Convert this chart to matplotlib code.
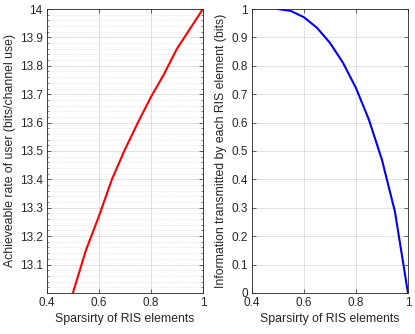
import matplotlib
matplotlib.use('Agg')
import matplotlib.pyplot as plt
from matplotlib.ticker import MultipleLocator
import numpy as np

plt.rcParams['font.family'] = ['Liberation Sans', 'DejaVu Sans']
plt.rcParams['font.size'] = 8.5

# datos
sparsity = [0.5, 0.55, 0.6, 0.65, 0.7, 0.75, 0.8, 0.85, 0.9, 0.95, 1.0]
rate = [13.0, 13.15, 13.27, 13.40, 13.505, 13.60, 13.69, 13.77, 13.86, 13.93, 14.0]
info = [1.0, 0.993, 0.971, 0.934, 0.881, 0.811, 0.722, 0.610, 0.469, 0.286, 0.0]

xticks = [0.4, 0.6, 0.8, 1]
xticklabels = ['0.4', '0.6', '0.8', '1']
rate_ticks = [13.1, 13.2, 13.3, 13.4, 13.5, 13.6, 13.7, 13.8, 13.9, 14.0]
rate_labels = ['13.1', '13.2', '13.3', '13.4', '13.5', '13.6', '13.7', '13.8', '13.9', '14']
info_ticks = [0, 0.1, 0.2, 0.3, 0.4, 0.5, 0.6, 0.7, 0.8, 0.9, 1]
info_labels = ['0', '0.1', '0.2', '0.3', '0.4', '0.5', '0.6', '0.7', '0.8', '0.9', '1']

tc = (0.15, 0.15, 0.15)

fig = plt.figure(figsize=(4.15, 3.34), dpi=100)
ax1 = fig.add_axes([0.113, 0.123, 0.376, 0.850])
ax2 = fig.add_axes([0.607, 0.123, 0.376, 0.850])

def style(ax):
    ax.grid(True, which='major', color=tc, alpha=0.15, linewidth=0.6)
    ax.tick_params(direction='in', top=True, right=True, colors=tc,
                   labelcolor=tc, length=3, width=0.5, labelsize=8.5, pad=3)
    for s in ax.spines.values():
        s.set_color(tc)
        s.set_linewidth(0.6)
    ax.set_axisbelow(True)

# panel izquierdo
ax1.plot(sparsity, rate, color='red', linewidth=1.5)
ax1.set_xlim(0.4, 1)
ax1.set_ylim(13.0, 14.0)
ax1.set_xticks(xticks)
ax1.set_xticklabels(xticklabels)
ax1.set_yticks(rate_ticks)
ax1.set_yticklabels(rate_labels)
ax1.yaxis.set_minor_locator(MultipleLocator(0.02))
style(ax1)
ax1.grid(True, which='minor', axis='y', color=tc, alpha=0.2,
         linestyle=(0, (1, 2)), linewidth=0.5)
ax1.tick_params(which='minor', direction='in', right=True, length=1.5,
                width=0.4, colors=tc)
ax1.set_xlabel('Sparsirty of RIS elements', color=tc, fontsize=8.8, labelpad=3)
ax1.set_ylabel('Achieveable rate of user (bits/channel use)', color=tc,
               fontsize=8.8, labelpad=3)

# panel derecho
ax2.plot(sparsity, info, color='blue', linewidth=1.5)
ax2.set_xlim(0.4, 1)
ax2.set_ylim(0, 1)
ax2.set_xticks(xticks)
ax2.set_xticklabels(xticklabels)
ax2.set_yticks(info_ticks)
ax2.set_yticklabels(info_labels)
style(ax2)
ax2.set_xlabel('Sparsirty of RIS elements', color=tc, fontsize=8.8, labelpad=3)
ax2.set_ylabel('Information transmitted by each RIS element (bits)',
               color=tc, fontsize=8.8, labelpad=3)

fig.savefig('out.png', dpi=100)
